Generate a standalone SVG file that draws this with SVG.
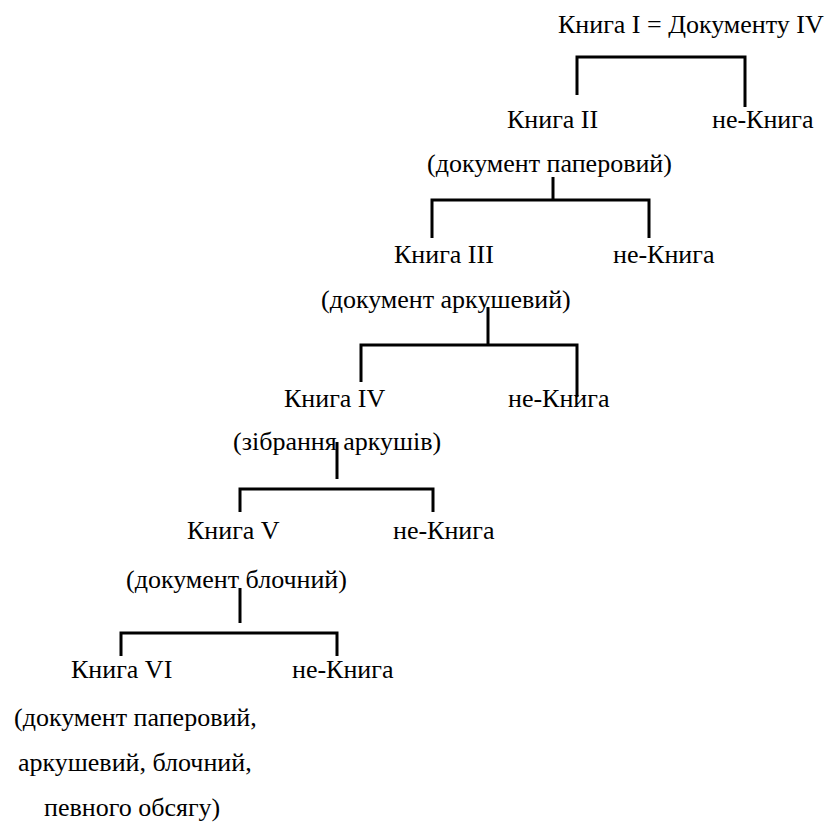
<svg xmlns="http://www.w3.org/2000/svg" width="833" height="823" viewBox="0 0 833 823">
<style>
text{font-family:"Liberation Serif","Times New Roman",serif;font-size:26px;fill:#000}
.c line,.c polyline{stroke:#000;stroke-width:3;fill:none}
</style>
<rect width="833" height="823" fill="#fff"/>
<g id="kniga1"><text x="558" y="33">Книга I = Документу IV</text></g>
<g id="kniga2"><text x="507" y="128">Книга II</text><text x="427" y="172">(документ паперовий)</text></g>
<g id="nekniga1"><text x="712" y="128">не-Книга</text></g>
<g id="kniga3"><text x="394" y="263">Книга III</text><text x="321" y="308">(документ аркушевий)</text></g>
<g id="nekniga2"><text x="613" y="263">не-Книга</text></g>
<g id="kniga4"><text x="284" y="407">Книга IV</text><text x="233" y="450">(зібрання аркушів)</text></g>
<g id="nekniga3"><text x="508" y="407">не-Книга</text></g>
<g id="kniga5"><text x="187" y="539">Книга V</text><text x="126" y="588">(документ блочний)</text></g>
<g id="nekniga4"><text x="393" y="539">не-Книга</text></g>
<g id="kniga6"><text x="71" y="678">Книга VI</text><text x="14" y="726">(документ паперовий,</text><text x="18" y="771">аркушевий, блочний,</text><text x="44" y="816">певного обсягу)</text></g>
<g id="nekniga5"><text x="292" y="678">не-Книга</text></g>
<g class="c" id="connectors">
<polyline points="577,95 577,57 745,57 745,107"/>
<line x1="553" y1="177" x2="553" y2="200"/>
<polyline points="432,238 432,200 649,200 649,238"/>
<line x1="488" y1="307" x2="488" y2="345"/>
<polyline points="361,382 361,345 577,345 577,397"/>
<line x1="337" y1="442" x2="337" y2="479"/>
<polyline points="240,512 240,489 433,489 433,512"/>
<line x1="240" y1="588" x2="240" y2="623"/>
<polyline points="121,656 121,633 337,633 337,656"/>
</g>
</svg>
